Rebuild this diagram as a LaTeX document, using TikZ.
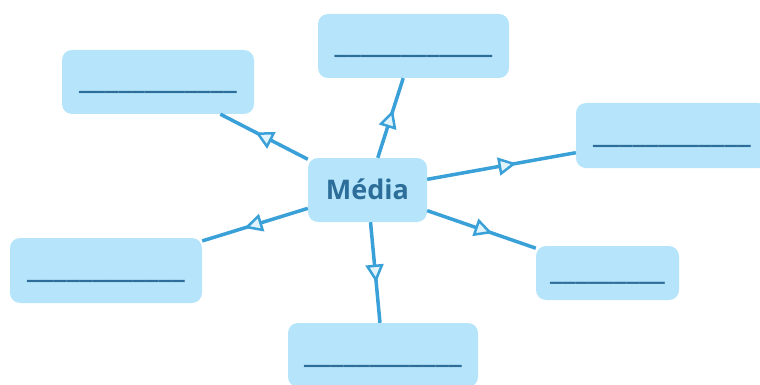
\documentclass[tikz,border=0pt]{standalone}
\usepackage{fontspec}
\setmainfont{Open Sans}
\usetikzlibrary{arrows.meta, decorations.markings}
\definecolor{cajafondo}{HTML}{B5E4FB}
\definecolor{flecha}{HTML}{3AA0D8}
\definecolor{texto}{HTML}{2C6E99}

\begin{document}
\begin{tikzpicture}[x=1pt,y=-1pt,
    caja/.style={fill=cajafondo,rounded corners=10pt,inner sep=0pt,text=texto,font=\fontsize{32}{32}\selectfont\bfseries,text height=14pt,text depth=0pt,minimum width=192pt,minimum height=64pt},
    enlace/.style={line width=3.5pt,flecha,postaction={decorate},decoration={markings,mark=at position 0.6 with {\arrow{Triangle[fill=cajafondo!40,length=18pt,width=18pt,line width=2.5pt]}}}}]
    \useasboundingbox (0,0) rectangle (760,385);
    % La caja central y las seis cajas vacias
    \node[caja,minimum width=119pt,font=\fontsize{27}{27}\selectfont\bfseries,text height=19pt](media) at (367.5,190) {Média};
    \node[caja,minimum width=191pt](arriba) at (413.5,46) {\_\_\_\_\_\_\_\_\_\_\_\_};
    \node[caja](arribaizq) at (158,82) {\_\_\_\_\_\_\_\_\_\_\_\_};
    \node[caja,minimum height=65pt](der) at (672,135.5) {\_\_\_\_\_\_\_\_\_\_\_\_};
    \node[caja,minimum height=65pt](izq) at (106,270.5) {\_\_\_\_\_\_\_\_\_\_\_\_};
    \node[caja,minimum width=143pt,minimum height=54pt,text height=12pt,font=\fontsize{31}{31}\selectfont\bfseries](abajoder) at (607.5,273) {\_\_\_\_\_\_\_\_\_};
    \node[caja,minimum width=190pt](abajo) at (383,355) {\_\_\_\_\_\_\_\_\_\_\_\_};

    \draw[enlace] (media) -- (arriba);
    \draw[enlace] (media) -- (arribaizq);
    \draw[enlace] (media) -- (der);
    \draw[enlace] (media) -- (izq);
    \draw[enlace] (media) -- (abajoder);
    \draw[enlace] (media) -- (abajo);
\end{tikzpicture}
\end{document}
